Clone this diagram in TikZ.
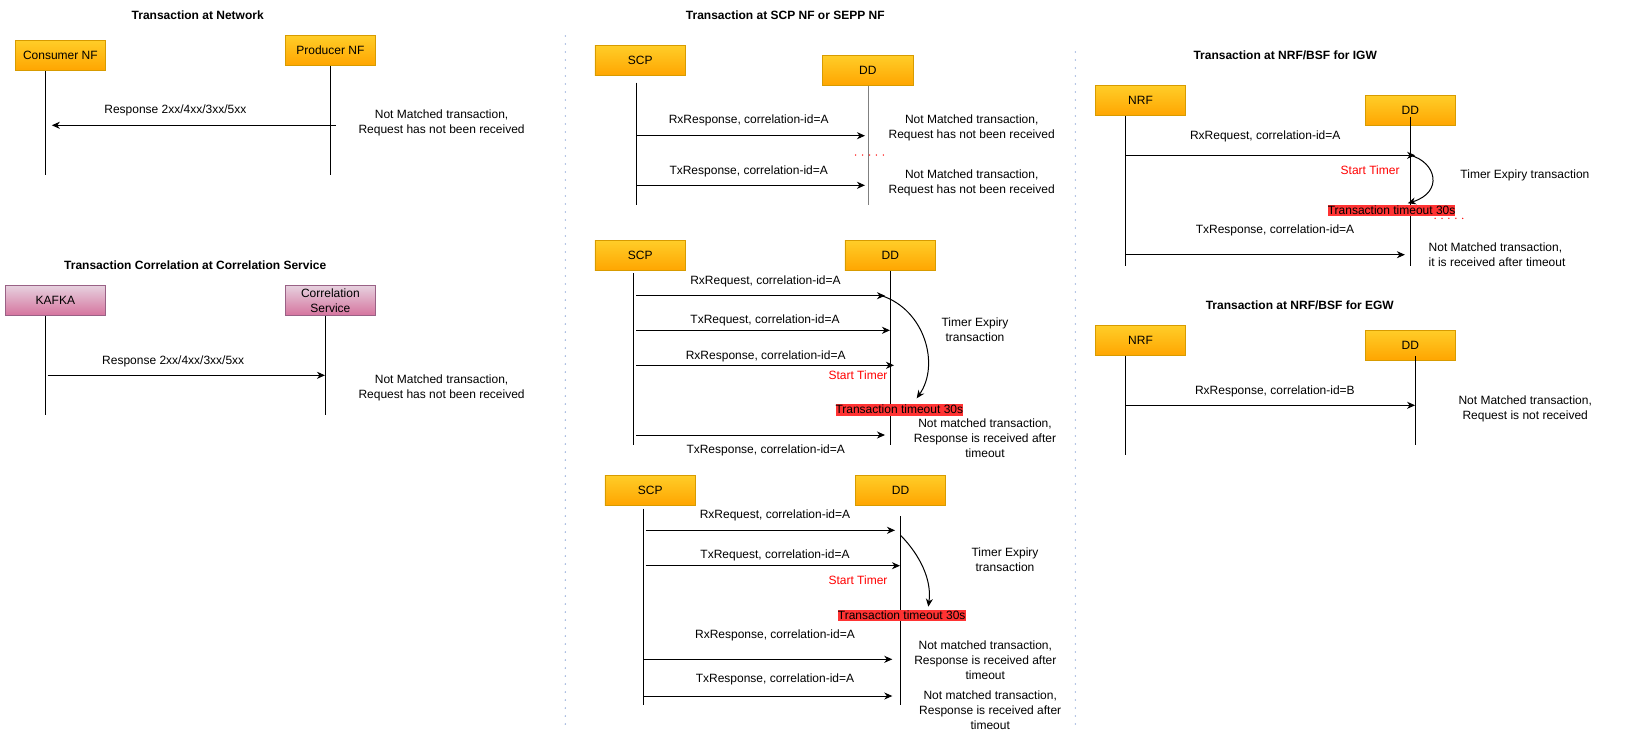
\documentclass[tikz,border=0pt]{standalone}
\usepackage{fontspec}
\setmainfont{Liberation Sans}
\usetikzlibrary{arrows.meta}
\definecolor{orT}{HTML}{FFCD28}
\definecolor{orB}{HTML}{FFA500}
\definecolor{orS}{HTML}{D79B00}
\definecolor{pkT}{HTML}{E6D0DE}
\definecolor{pkB}{HTML}{D5739D}
\definecolor{pkS}{HTML}{996185}
\definecolor{tored}{HTML}{FF3333}
\definecolor{sepc}{HTML}{8FA8D8}
\newcommand\szM{\fontsize{12}{15}\selectfont}
\begin{document}
\begin{tikzpicture}[x=1pt,y=-1pt,
 every node/.style={font=\szM},
 orbox/.style={draw=orS, top color=orT, bottom color=orB, inner sep=0, minimum height=30pt, line width=0.8pt},
 pkbox/.style={draw=pkS, top color=pkT, bottom color=pkB, inner sep=0, minimum height=30pt, align=center, line width=0.8pt},
 life/.style={line width=1pt},
 msg/.style={line width=1pt, -{Stealth[length=8pt,width=7pt,inset=2.5pt]}},
 lbl/.style={inner sep=0, align=center},
 ttl/.style={inner sep=0, font=\szM\bfseries},
 tmo/.style={fill=tored, inner sep=0, text height=0.905em, text depth=0.212em},
 stt/.style={inner sep=0, text=red},
 rdots/.style={red, line width=1.5pt, line cap=round, dash pattern=on 0pt off 6.9pt},
 sepl/.style={sepc, line width=1.6pt, line cap=round, dash pattern=on 0pt off 8pt},
 curv/.style={line width=1pt, -{Stealth[length=8pt,width=7pt,inset=2.5pt]}}
]
\useasboundingbox (0,0) rectangle (1631,737);

% separators
\coordinate (s1t) at (565.3,36); \coordinate (s1b) at (565.3,724);
\coordinate (s2t) at (1075.3,52); \coordinate (s2b) at (1075.3,724);
\draw[sepl] (s1t) -- (s1b);
\draw[sepl] (s2t) -- (s2b);

%================ Panel 1: Transaction at Network
\node[ttl] (t1) at (197.7,15.7) {Transaction at Network};
\node[orbox,minimum width=90.7pt] (cons) at (60.4,55.5) {Consumer NF};
\node[orbox,minimum width=90.7pt] (prod) at (330.4,50.5) {Producer NF};
\coordinate (consT) at (45.7,71); \coordinate (consB) at (45.7,175);
\coordinate (prodT) at (330.4,66); \coordinate (prodB) at (330.4,175);
\draw[life] (consT) -- (consB);
\draw[life] (prodT) -- (prodB);
\coordinate (p1a) at (335.7,125.3); \coordinate (p1b) at (51.8,125.3);
\draw[msg] (p1a) -- (p1b);
\node[lbl] (p1l) at (175.4,110.7) {Response 2xx/4xx/3xx/5xx};
\node[lbl] (p1n) at (441.6,123) {Not Matched transaction,\\Request has not been received};

%================ Panel 2: Correlation service
\node[ttl] (t2) at (195.2,265.7) {Transaction Correlation at Correlation Service};
\node[pkbox,minimum width=100.7pt] (kafka) at (55.4,300.7) {KAFKA};
\node[pkbox,minimum width=90.7pt] (cs) at (330.4,300.7) {Correlation\\Service};
\coordinate (kT) at (45.7,316); \coordinate (kB) at (45.7,415);
\coordinate (csT) at (325.4,316); \coordinate (csB) at (325.4,415);
\draw[life] (kT) -- (kB);
\draw[life] (csT) -- (csB);
\coordinate (p2a) at (47.5,375.3); \coordinate (p2b) at (325,375.3);
\draw[msg] (p2a) -- (p2b);
\node[lbl] (p2l) at (173.2,361) {Response 2xx/4xx/3xx/5xx};
\node[lbl] (p2n) at (441.6,388.2) {Not Matched transaction,\\Request has not been received};

%================ Panel 3: SCP (1)
\node[ttl] (t3) at (785.3,15.7) {Transaction at SCP NF or SEPP NF};
\node[orbox,minimum width=90.7pt] (scp1) at (640.3,60.7) {SCP};
\node[orbox,minimum width=91pt] (dd1) at (867.8,70.5) {DD};
\coordinate (scp1T) at (636,82.7); \coordinate (scp1B) at (636,205);
\coordinate (dd1T) at (868,86); \coordinate (dd1B) at (868,205);
\draw[life] (scp1T) -- (scp1B);
\draw[life,gray] (dd1T) -- (dd1B);
\coordinate (a1s) at (636,135.7); \coordinate (a1e) at (865,135.7);
\draw[msg] (a1s) -- (a1e);
\node[lbl] (a1l) at (748.7,120.7) {RxResponse, correlation-id=A};
\node[lbl] (a1n) at (971.7,128.2) {Not Matched transaction,\\Request has not been received};
\coordinate (rd1a) at (855.7,155); \coordinate (rd1b) at (890,155);
\draw[rdots] (rd1a) -- (rd1b);
\coordinate (a2s) at (636,185.3); \coordinate (a2e) at (865,185.3);
\draw[msg] (a2s) -- (a2e);
\node[lbl] (a2l) at (748.7,171) {TxResponse, correlation-id=A};
\node[lbl] (a2n) at (971.7,183.2) {Not Matched transaction,\\Request has not been received};

%================ Panel 4: SCP (2)
\node[orbox,minimum width=90.7pt] (scp2) at (640.3,255.7) {SCP};
\node[orbox,minimum width=90.7pt] (dd2) at (890.3,255.7) {DD};
\coordinate (scp2T) at (633,273.3); \coordinate (scp2B) at (633,445);
\coordinate (dd2T) at (890,271); \coordinate (dd2B) at (890,445);
\draw[life] (scp2T) -- (scp2B);
\draw[life] (dd2T) -- (dd2B);
\coordinate (b1s) at (636,295.7); \coordinate (b1e) at (885,295.7);
\draw[msg] (b1s) -- (b1e);
\node[lbl] (b1l) at (765.5,281.3) {RxRequest, correlation-id=A};
\coordinate (b2s) at (636,330.3); \coordinate (b2e) at (890,330.3);
\draw[msg] (b2s) -- (b2e);
\node[lbl] (b2l) at (765,320) {TxRequest, correlation-id=A};
\coordinate (b3s) at (636,365.3); \coordinate (b3e) at (894,365.3);
\draw[msg] (b3s) -- (b3e);
\node[lbl] (b3l) at (765.7,356) {RxResponse, correlation-id=A};
\node[stt] (st2) at (858,375.3) {Start Timer};
\coordinate (c2s) at (881.7,295.7); \coordinate (c2e) at (916.7,398.3);
\draw[curv] (c2s) .. controls (925,310) and (940,365) .. (c2e);
\node[lbl] (te2) at (975,330) {Timer Expiry\\transaction};
\node[tmo] (to2) at (899.3,410) {Transaction timeout 30s};
\coordinate (b4s) at (636,435); \coordinate (b4e) at (885,435);
\draw[msg] (b4s) -- (b4e);
\node[lbl] (b4l) at (765.7,450) {TxResponse, correlation-id=A};
\node[lbl] (b4n) at (985,438.7) {Not matched transaction,\\Response is received after\\timeout};

%================ Panel 5: SCP (3)
\node[orbox,minimum width=90.7pt] (scp3) at (650.3,490.3) {SCP};
\node[orbox,minimum width=90.4pt] (dd3) at (900.5,490.3) {DD};
\coordinate (scp3T) at (643.3,508.7); \coordinate (scp3B) at (643.3,705);
\coordinate (dd3T) at (900.3,516); \coordinate (dd3B) at (900.3,705);
\draw[life] (scp3T) -- (scp3B);
\draw[life] (dd3T) -- (dd3B);
\coordinate (d1s) at (645.7,530.3); \coordinate (d1e) at (895,530.3);
\draw[msg] (d1s) -- (d1e);
\node[lbl] (d1l) at (775,515.7) {RxRequest, correlation-id=A};
\coordinate (d2s) at (645.7,565.7); \coordinate (d2e) at (900,565.7);
\draw[msg] (d2s) -- (d2e);
\node[lbl] (d2l) at (775,555.7) {TxRequest, correlation-id=A};
\node[stt] (st3) at (858,580.7) {Start Timer};
\coordinate (c3s) at (900.3,535); \coordinate (c3e) at (928.3,606.7);
\draw[curv] (c3s) .. controls (920,555) and (932,580) .. (c3e);
\node[lbl] (te3) at (1005,560) {Timer Expiry\\transaction};
\node[tmo] (to3) at (901.7,615.8) {Transaction timeout 30s};
\coordinate (d3s) at (643.3,659.3); \coordinate (d3e) at (892.3,659.3);
\draw[msg] (d3s) -- (d3e);
\node[lbl] (d3l) at (775,635.7) {RxResponse, correlation-id=A};
\node[lbl] (d3n) at (985.3,660.3) {Not matched transaction,\\Response is received after\\timeout};
\coordinate (d4s) at (643.3,696); \coordinate (d4e) at (892.3,696);
\draw[msg] (d4s) -- (d4e);
\node[lbl] (d4l) at (775,679.7) {TxResponse, correlation-id=A};
\node[lbl] (d4n) at (990.2,710) {Not matched transaction,\\Response is received after\\timeout};

%================ Panel 6: NRF/BSF IGW
\node[ttl] (t6) at (1285.2,55.7) {Transaction at NRF/BSF for IGW};
\node[orbox,minimum width=90.3pt] (nrf1) at (1140.5,100.7) {NRF};
\node[orbox,minimum width=90.3pt] (dd4) at (1410.4,110.7) {DD};
\coordinate (nrf1T) at (1125.2,116); \coordinate (nrf1B) at (1125.2,265.7);
\coordinate (dd4T) at (1410.3,116.7); \coordinate (dd4B) at (1410.3,265.7);
\draw[life] (nrf1T) -- (nrf1B);
\draw[life] (dd4T) -- (dd4B);
\coordinate (e1s) at (1125.2,155.3); \coordinate (e1e) at (1415.1,155.3);
\draw[msg] (e1s) -- (e1e);
\node[lbl] (e1l) at (1265.2,136) {RxRequest, correlation-id=A};
\node[stt] (st6) at (1370.1,170.7) {Start Timer};
\coordinate (c6s) at (1410.3,155.3); \coordinate (c6e) at (1407.8,203.3);
\draw[curv] (c6s) .. controls (1436,162) and (1444,192) .. (c6e);
\node[lbl] (te6) at (1524.9,175.7) {Timer Expiry transaction};
\node[tmo] (to6) at (1391.6,210.7) {Transaction timeout 30s};
\coordinate (rd6a) at (1435.1,218.3); \coordinate (rd6b) at (1467.9,218.3);
\draw[rdots] (rd6a) -- (rd6b);
\coordinate (e2s) at (1125.2,254.7); \coordinate (e2e) at (1404.9,254.7);
\draw[msg] (e2s) -- (e2e);
\node[lbl] (e2l) at (1275,230.7) {TxResponse, correlation-id=A};
\node[lbl,align=left,anchor=west] (e2n) at (1428.5,255.2) {Not Matched transaction,\\it is received after timeout};

%================ Panel 7: NRF/BSF EGW
\node[ttl] (t7) at (1299.8,305.7) {Transaction at NRF/BSF for EGW};
\node[orbox,minimum width=90.3pt] (nrf2) at (1140.5,340.7) {NRF};
\node[orbox,minimum width=90.3pt] (dd5) at (1410.4,345.3) {DD};
\coordinate (nrf2T) at (1125.2,356); \coordinate (nrf2B) at (1125.2,455);
\coordinate (dd5T) at (1415.1,356); \coordinate (dd5B) at (1415.1,445);
\draw[life] (nrf2T) -- (nrf2B);
\draw[life] (dd5T) -- (dd5B);
\coordinate (f1s) at (1125.2,405.3); \coordinate (f1e) at (1415.1,405.3);
\draw[msg] (f1s) -- (f1e);
\node[lbl] (f1l) at (1274.9,391.3) {RxResponse, correlation-id=B};
\node[lbl] (f1n) at (1525.2,409.3) {Not Matched transaction,\\Request is not received};
\end{tikzpicture}
\end{document}
